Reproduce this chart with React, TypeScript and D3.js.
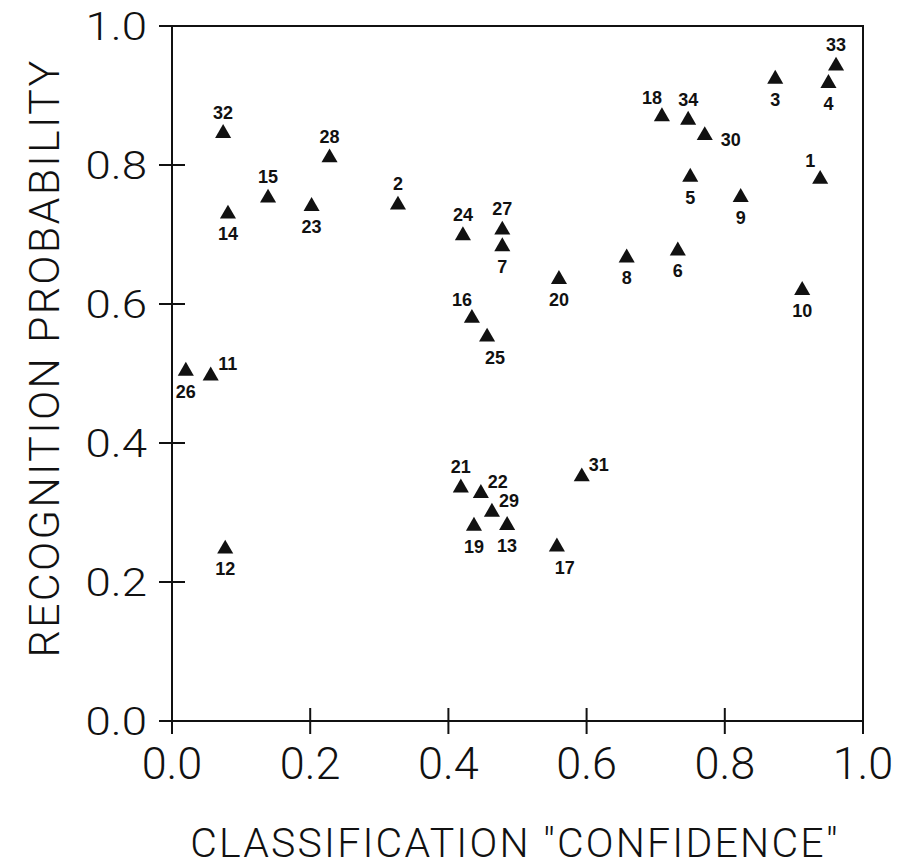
import React from 'react';
import * as d3 from 'd3';

// point numbers, classification confidence (x) and recognition probability (y)
const ids = [1, 2, 3, 4, 5, 6, 7, 8, 9, 10, 11, 12, 13, 14, 15, 16, 17, 18, 19, 20, 21, 22, 23, 24, 25, 26, 27, 28, 29, 30, 31, 32, 33, 34];
const confidence = [0.938, 0.327, 0.873, 0.950, 0.750, 0.732, 0.478, 0.658, 0.823, 0.912, 0.056, 0.077, 0.485, 0.081, 0.139, 0.434, 0.557, 0.709, 0.437, 0.560, 0.418, 0.447, 0.202, 0.421, 0.456, 0.020, 0.478, 0.228, 0.463, 0.771, 0.593, 0.074, 0.961, 0.747];
const probability = [0.781, 0.744, 0.925, 0.919, 0.784, 0.678, 0.684, 0.668, 0.755, 0.621, 0.498, 0.249, 0.283, 0.731, 0.754, 0.581, 0.252, 0.871, 0.282, 0.637, 0.337, 0.329, 0.742, 0.700, 0.554, 0.505, 0.708, 0.812, 0.302, 0.844, 0.353, 0.847, 0.944, 0.866];
// which side of the marker each number sits on
const labelSide = ['nw', 'n', 's', 's', 's', 's', 's', 's', 's', 's', 'ne', 's', 's', 's', 'n', 'nw', 'se', 'nw', 's', 's', 'n', 'ne', 's', 'n', 'se', 's', 'n', 'n', 'ne', 'e', 'ne', 'n', 'n', 'n'];

const xTicks = [0, 0.2, 0.4, 0.6, 0.8, 1.0];
const yTicks = [0, 0.2, 0.4, 0.6, 0.8, 1.0];

const sideOffset: Record<string, [number, number]> = {
  n: [0, -20],
  s: [0, 21],
  ne: [17, -11],
  nw: [-10, -18],
  se: [8, 22],
  e: [26, 5],
};

export default function App() {
  const width = 909;
  const height = 868;
  const left = 172, right = 863, top = 26, bottom = 721;
  const tick = 13;

  const x = d3.scaleLinear().domain([0, 1]).range([left, right]);
  const y = d3.scaleLinear().domain([0, 1]).range([bottom, top]);
  const tri = d3.symbol(d3.symbolTriangle, 112)();

  const font = 'Roboto, "Liberation Sans", Arial, sans-serif';
  const ink = '#111';

  return (
    <svg width={width} height={height} style={{ position: 'absolute', left: 0, top: 0, background: '#fff' }}>
      {/* frame */}
      <path
        d={`M${left - tick},${y(0)}H${right}V${y(0) + tick}M${right},${y(0)}V${top}H${left - tick}M${left},${top}V${y(0) + tick}`}
        fill="none" stroke={ink} strokeWidth={2}
      />
      {yTicks.slice(1, -1).map(t => (
        <line key={'yt' + t} x1={left - tick} x2={left + tick} y1={y(t)} y2={y(t)} stroke={ink} strokeWidth={2} />
      ))}
      {xTicks.slice(1, -1).map(t => (
        <line key={'xt' + t} x1={x(t)} x2={x(t)} y1={y(0) - tick} y2={y(0) + tick} stroke={ink} strokeWidth={2} />
      ))}

      {/* y tick labels */}
      {yTicks.map(t => (
        <g key={'yl' + t} transform={`translate(147,${y(t) + 13.5}) scale(1.2,1)`}>
          <text textAnchor="end" fontFamily={font} fontWeight={300} fontSize={38} fill={ink}>{t.toFixed(1)}</text>
        </g>
      ))}
      {/* x tick labels */}
      {xTicks.map(t => (
        <text key={'xl' + t} x={x(t)} y={779} textAnchor="middle" fontFamily={font} fontWeight={300} fontSize={45} fill={ink}>
          {t.toFixed(1)}
        </text>
      ))}

      {/* axis titles */}
      <text x={515} y={857} textAnchor="middle" fontFamily={font} fontWeight={300} fontSize={41}
        letterSpacing={2.2} fill={ink}>
        CLASSIFICATION "CONFIDENCE"
      </text>
      <text transform="translate(59,358) rotate(-90)" textAnchor="middle" fontFamily={font} fontWeight={300} fontSize={43}
        letterSpacing={2.3} fill={ink}>
        RECOGNITION PROBABILITY
      </text>

      {/* points */}
      {ids.map((id, i) => {
        const px = x(confidence[i]);
        const py = y(probability[i]);
        const [dx, dy] = sideOffset[labelSide[i]];
        return (
          <g key={id}>
            <path d={tri as string} transform={`translate(${px},${py + 1})`} fill={ink} />
            <text x={px + dx} y={py + dy + 6.5} textAnchor="middle" fontFamily='"Liberation Sans", Arial, sans-serif'
              fontWeight="bold" fontSize={18} fill={ink}>
              {id}
            </text>
          </g>
        );
      })}
    </svg>
  );
}
